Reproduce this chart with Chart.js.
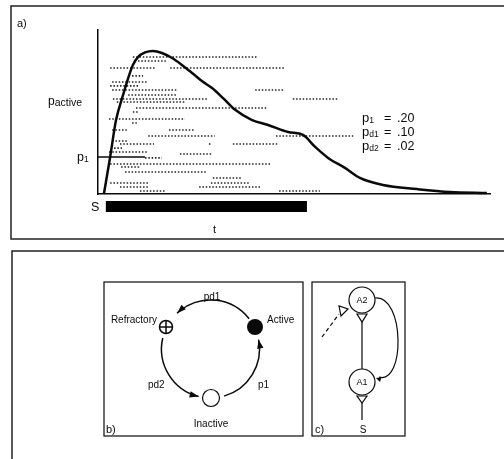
<!DOCTYPE html>
<html>
<head>
<meta charset="utf-8">
<script src="https://cdn.jsdelivr.net/npm/chart.js@4.4.1/dist/chart.umd.min.js"></script>
<style>
  html, body { margin: 0; padding: 0; background: #fff; }
  canvas { display: block; }
</style>
</head>
<body>
<canvas id="chart" width="504" height="459"></canvas>
<script>
// Curve: p_active over time (arbitrary time units)
const curveT = [1.5, 3.1, 4.6, 6.4, 7.7, 8.9, 10.2, 12.0, 14.0, 16.3, 18.9, 21.4, 24.0, 26.5, 29.1, 31.9, 34.9, 39.3, 43.4, 48.5, 52.3, 55.4, 58.7, 63.0, 66.8, 72.7, 81.4, 89.8, 99.2];
const curveP = [0, 0.226, 0.451, 0.604, 0.707, 0.787, 0.835, 0.863, 0.872, 0.860, 0.829, 0.787, 0.738, 0.689, 0.646, 0.585, 0.515, 0.451, 0.421, 0.378, 0.360, 0.287, 0.220, 0.159, 0.098, 0.055, 0.030, 0.012, 0.006];

// Raster of active units: one entry per dotted segment
const rasterRow = [0.835, 0.811, 0.768, 0.768, 0.720, 0.683, 0.659, 0.634, 0.634, 0.604, 0.579, 0.579, 0.561, 0.524, 0.500, 0.457, 0.433, 0.390, 0.390, 0.354, 0.354, 0.323, 0.305, 0.305, 0.305, 0.280, 0.256, 0.244, 0.220, 0.183, 0.165, 0.134, 0.098, 0.067, 0.067, 0.043, 0.043, 0.018, 0.018];
const rasterStart = [8.9, 10.2, 3.1, 18.4, 8.7, 3.6, 3.1, 3.6, 40.1, 7.7, 3.8, 49.7, 4.8, 9.7, 8.9, 2.8, 8.7, 3.6, 18.1, 12.8, 45.4, 3.6, 5.6, 28.3, 34.4, 4.1, 2.8, 20.9, 12.0, 3.1, 5.9, 6.9, 29.3, 3.1, 28.8, 5.6, 25.8, 10.7, 46.2];
const rasterEnd = [40.6, 17.3, 14.8, 47.7, 11.5, 12.8, 10.2, 20.2, 47.7, 20.2, 27.8, 61.2, 22.2, 43.1, 10.2, 22.2, 9.9, 7.4, 24.5, 29.8, 65.1, 7.4, 14.3, 28.8, 46.2, 6.1, 12.8, 29.3, 16.3, 43.9, 10.7, 27.6, 36.5, 12.8, 38.8, 12.8, 41.8, 17.1, 56.6];

// p1 marker and stimulus interval
const p1Level = 0.225;
const p1End = 12;
const stimulusStart = 2;
const stimulusEnd = 53.3;
const stimulusLevel = -0.076;

// parameter legend
const paramNames = ["1", "d1", "d2"];
const paramValues = [".20", ".10", ".02"];

const FONT = "'Liberation Sans', Arial, sans-serif";
const INK = "#0a0a0a";

function pts(xs, ys) {
  return xs.map((x, i) => ({ x, y: ys[i] }));
}

const datasets = [
  {
    data: pts(curveT, curveP),
    borderColor: INK,
    borderWidth: 2.5,
    cubicInterpolationMode: "monotone",
    clip: false,
  },
  {
    data: [{ x: 0, y: p1Level }, { x: p1End, y: p1Level }],
    borderColor: INK,
    borderWidth: 1.5,
  },
  {
    data: [{ x: stimulusStart, y: stimulusLevel }, { x: stimulusEnd, y: stimulusLevel }],
    borderColor: "#000",
    borderWidth: 11,
    borderCapStyle: "butt",
    clip: false,
  },
];

rasterRow.forEach((row, i) => {
  datasets.push({
    data: [{ x: rasterStart[i], y: row }, { x: rasterEnd[i], y: row }],
    borderColor: "#222",
    borderWidth: 1.6,
    borderDash: [1.5, 1.8],
  });
});

// small helper: draws runs of text with different sizes / baseline shifts
function runText(ctx, x, y, parts) {
  ctx.textAlign = "left";
  ctx.textBaseline = "alphabetic";
  parts.forEach(([txt, size, dy]) => {
    ctx.font = `${size}px ${FONT}`;
    ctx.fillText(txt, x, y + (dy || 0));
    x += ctx.measureText(txt).width;
  });
}

function label(ctx, txt, x, y, size, align) {
  ctx.font = `${size}px ${FONT}`;
  ctx.textAlign = align || "left";
  ctx.textBaseline = "alphabetic";
  ctx.fillText(txt, x, y);
}

function arrowHead(ctx, tx, ty, dx, dy, len, hw) {
  const nx = -dy, ny = dx;
  ctx.beginPath();
  ctx.moveTo(tx, ty);
  ctx.lineTo(tx - dx * len + nx * hw, ty - dy * len + ny * hw);
  ctx.lineTo(tx - dx * len - nx * hw, ty - dy * len - ny * hw);
  ctx.closePath();
  ctx.fill();
}

const deg = (d) => (d * Math.PI) / 180;

const figurePlugin = {
  id: "figure",
  beforeDraw(chart) {
    const ctx = chart.ctx;
    ctx.save();
    ctx.fillStyle = "#fff";
    ctx.fillRect(0, 0, chart.width, chart.height);
    ctx.strokeStyle = "#222";
    ctx.lineWidth = 1.5;
    ctx.strokeRect(11, 6, 600, 233);
    ctx.strokeRect(12, 251, 600, 300);
    ctx.restore();
  },
  afterDraw(chart) {
    const ctx = chart.ctx;
    ctx.save();
    ctx.fillStyle = INK;
    ctx.strokeStyle = INK;

    // panel a labels
    label(ctx, "a)", 17, 27, 11);
    runText(ctx, 48, 105, [["p", 12], ["active", 10.5, 1]]);
    runText(ctx, 77, 161, [["p", 12.5], ["1", 8.5, 1]]);
    label(ctx, "S", 91, 211, 12.5);
    label(ctx, "t", 213, 233, 11);

    paramNames.forEach((n, i) => {
      const y = 122 + i * 14;
      runText(ctx, 362, y, [["p", 13], [n, 8.5, 1]]);
      label(ctx, "=", 384, y, 12.5);
      label(ctx, paramValues[i], 397, y, 12.5);
    });

    // panel b: state cycle
    ctx.lineWidth = 1.2;
    ctx.strokeRect(104, 282, 199, 154);
    const cx = 210.5, cy = 349, r = 49;
    ctx.lineWidth = 1.5;
    const arcs = [[-38, -133], [193, 104], [74, -11]];
    arcs.forEach(([a0, a1]) => {
      ctx.beginPath();
      ctx.arc(cx, cy, r, deg(a0), deg(a1), true);
      ctx.stroke();
      const t = deg(a1);
      arrowHead(ctx, cx + r * Math.cos(t), cy + r * Math.sin(t), Math.sin(t), -Math.cos(t), 9, 3.2);
    });

    // Refractory node
    const rx = 166, ry = 327;
    ctx.beginPath();
    ctx.arc(rx, ry, 6.5, 0, Math.PI * 2);
    ctx.fillStyle = "#fff";
    ctx.fill();
    ctx.stroke();
    ctx.beginPath();
    ctx.moveTo(rx - 6.5, ry); ctx.lineTo(rx + 6.5, ry);
    ctx.moveTo(rx, ry - 6.5); ctx.lineTo(rx, ry + 6.5);
    ctx.stroke();
    // Active node
    ctx.fillStyle = INK;
    ctx.beginPath();
    ctx.arc(255, 327, 8, 0, Math.PI * 2);
    ctx.fill();
    // Inactive node
    ctx.beginPath();
    ctx.arc(211, 398, 8.5, 0, Math.PI * 2);
    ctx.fillStyle = "#fff";
    ctx.fill();
    ctx.lineWidth = 1.2;
    ctx.stroke();
    ctx.fillStyle = INK;

    label(ctx, "Refractory", 157, 323, 10, "right");
    label(ctx, "Active", 267, 323, 10);
    label(ctx, "pd1", 212, 300, 10, "center");
    label(ctx, "pd2", 148, 388, 10);
    label(ctx, "p1", 258, 388, 10);
    label(ctx, "Inactive", 211, 427, 10, "center");
    label(ctx, "b)", 106, 433, 11);

    // panel c: two-unit circuit
    ctx.lineWidth = 1.2;
    ctx.strokeRect(312, 282, 93, 154);
    ctx.beginPath();
    ctx.arc(362, 300, 13, 0, Math.PI * 2);
    ctx.stroke();
    ctx.beginPath();
    ctx.arc(362, 382, 13, 0, Math.PI * 2);
    ctx.stroke();
    // synapse triangles
    [[314, 322], [396, 403]].forEach(([top, tip]) => {
      ctx.beginPath();
      ctx.moveTo(357, top); ctx.lineTo(367, top); ctx.lineTo(362, tip); ctx.closePath();
      ctx.stroke();
    });
    ctx.beginPath();
    ctx.moveTo(362, 322); ctx.lineTo(362, 369);
    ctx.moveTo(362, 403); ctx.lineTo(362, 420);
    ctx.stroke();
    // feedback loop
    ctx.beginPath();
    ctx.moveTo(375, 298);
    ctx.bezierCurveTo(405, 295, 405, 385, 379, 377);
    ctx.stroke();
    arrowHead(ctx, 376, 378, -0.95, -0.3, 5, 2.5);
    // dashed input
    ctx.setLineDash([4, 3]);
    ctx.beginPath();
    ctx.moveTo(322, 337); ctx.lineTo(339, 314);
    ctx.stroke();
    ctx.setLineDash([]);
    ctx.beginPath();
    ctx.moveTo(339, 306); ctx.lineTo(341, 316); ctx.lineTo(348, 309); ctx.closePath();
    ctx.stroke();

    label(ctx, "A2", 362, 303, 9, "center");
    label(ctx, "A1", 362, 385, 9, "center");
    label(ctx, "S", 363, 433, 10, "center");
    label(ctx, "c)", 315, 433, 11);
    ctx.restore();
  },
};

const hiddenScale = (min, max, horizontal) => ({
  type: "linear",
  min,
  max,
  ticks: { display: false },
  grid: { display: false, drawTicks: false },
  border: { display: true, color: INK, width: 1.5 },
  afterFit: (s) => {
    if (horizontal) s.height = 0;
    else s.width = 0;
  },
});

new Chart(document.getElementById("chart"), {
  type: "scatter",
  data: { datasets },
  options: {
    responsive: false,
    animation: false,
    showLine: true,
    elements: { point: { radius: 0 } },
    layout: { padding: { left: 98, top: 30, right: 14, bottom: 265 } },
    scales: {
      x: hiddenScale(0, 100, true),
      y: hiddenScale(0, 1, false),
    },
    plugins: { legend: { display: false }, tooltip: { enabled: false } },
  },
  plugins: [figurePlugin],
});
</script>
</body>
</html>
